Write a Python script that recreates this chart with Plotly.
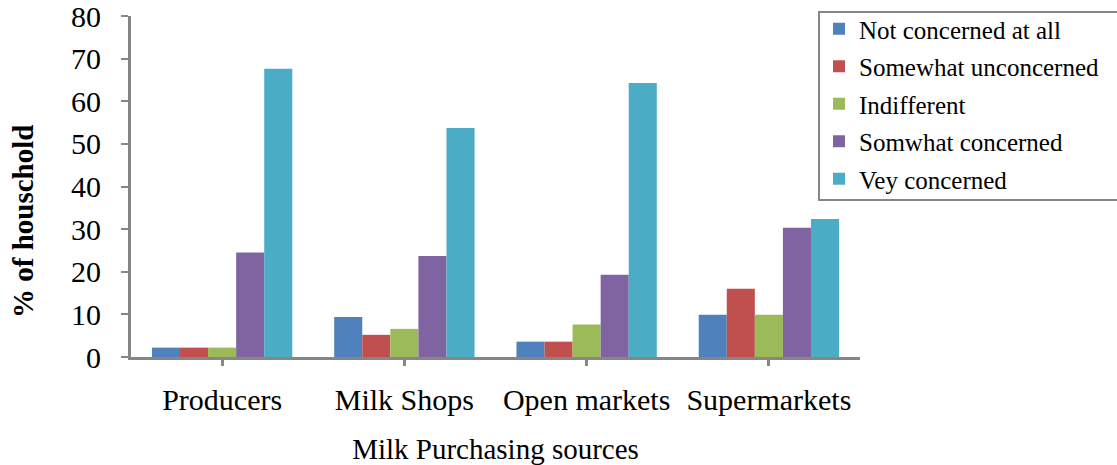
import plotly.graph_objects as go

sources = ["Producers", "Milk Shops", "Open markets", "Supermarkets"]
series_names = ["Not concerned at all", "Somewhat unconcerned", "Indifferent",
                "Somwhat concerned", "Vey concerned"]
not_concerned = [2.2, 9.4, 3.6, 9.9]
somewhat_unconcerned = [2.2, 5.2, 3.6, 16.0]
indifferent = [2.2, 6.6, 7.6, 9.9]
somewhat_concerned = [24.5, 23.7, 19.3, 30.3]
very_concerned = [67.6, 53.7, 64.3, 32.4]

series_values = [not_concerned, somewhat_unconcerned, indifferent,
                 somewhat_concerned, very_concerned]
colors = ["#4F81BD", "#C0504D", "#9BBB59", "#8064A2", "#4BACC6"]

font_family = "Liberation Serif, Times New Roman, serif"
axis_grey = "#868686"

# plot area in pixels (used to place legend and labels in paper coordinates)
W, H = 1117, 465
L, R, T, B = 131, 257, 16, 108
plot_w, plot_h = W - L - R, H - T - B


def px_x(px):
    return (px - L) / plot_w


def px_y(py):
    return (H - B - py) / plot_h


fig = go.Figure()
for i, (name, vals, col) in enumerate(zip(series_names, series_values, colors)):
    fig.add_trace(go.Bar(
        x=sources, y=vals, name=name, marker_color=col,
        marker_line_width=0, legendgroup=f"g{i}",
    ))

fig.update_layout(
    width=W, height=H,
    margin=dict(l=L, r=R, t=T, b=B, autoexpand=False),
    paper_bgcolor="white", plot_bgcolor="white",
    barmode="group", bargap=0.23, bargroupgap=0,
    font=dict(family=font_family, color="black", size=30),
    showlegend=True,
    legend=dict(
        x=px_x(819), xanchor="left",
        y=px_y(6), yanchor="top",
        font=dict(size=25, family=font_family),
        borderwidth=0, bgcolor="rgba(0,0,0,0)",
        tracegroupgap=2, itemwidth=30,
    ),
    # legend frame
    shapes=[dict(
        type="rect", xref="paper", yref="paper",
        x0=px_x(819), x1=px_x(1125), y0=px_y(200), y1=px_y(12),
        line=dict(color=axis_grey, width=2), fillcolor="rgba(0,0,0,0)",
    )],
    annotations=[dict(
        text="<b>% of houschold</b>", textangle=-90,
        xref="paper", yref="paper", x=px_x(23), y=px_y(222),
        xanchor="center", yanchor="middle", showarrow=False,
        font=dict(size=29, family=font_family, color="black"),
    )],
)

fig.update_xaxes(
    showline=True, linecolor=axis_grey, linewidth=3,
    ticks="outside", tickcolor=axis_grey, ticklen=6, tickwidth=3,
    showgrid=False, tickfont=dict(size=30, family=font_family),
    ticklabelstandoff=8,
    title=dict(text="Milk Purchasing sources", font=dict(size=29, family=font_family), standoff=24),
)
fig.update_yaxes(
    range=[0, 80], dtick=10, showline=True, linecolor=axis_grey, linewidth=3,
    ticks="outside", tickcolor=axis_grey, ticklen=7, tickwidth=2,
    showgrid=False, zeroline=False, ticklabeloverflow="allow",
    tickfont=dict(size=30, family=font_family), ticklabelstandoff=14,
)

fig.write_html("out.html")
